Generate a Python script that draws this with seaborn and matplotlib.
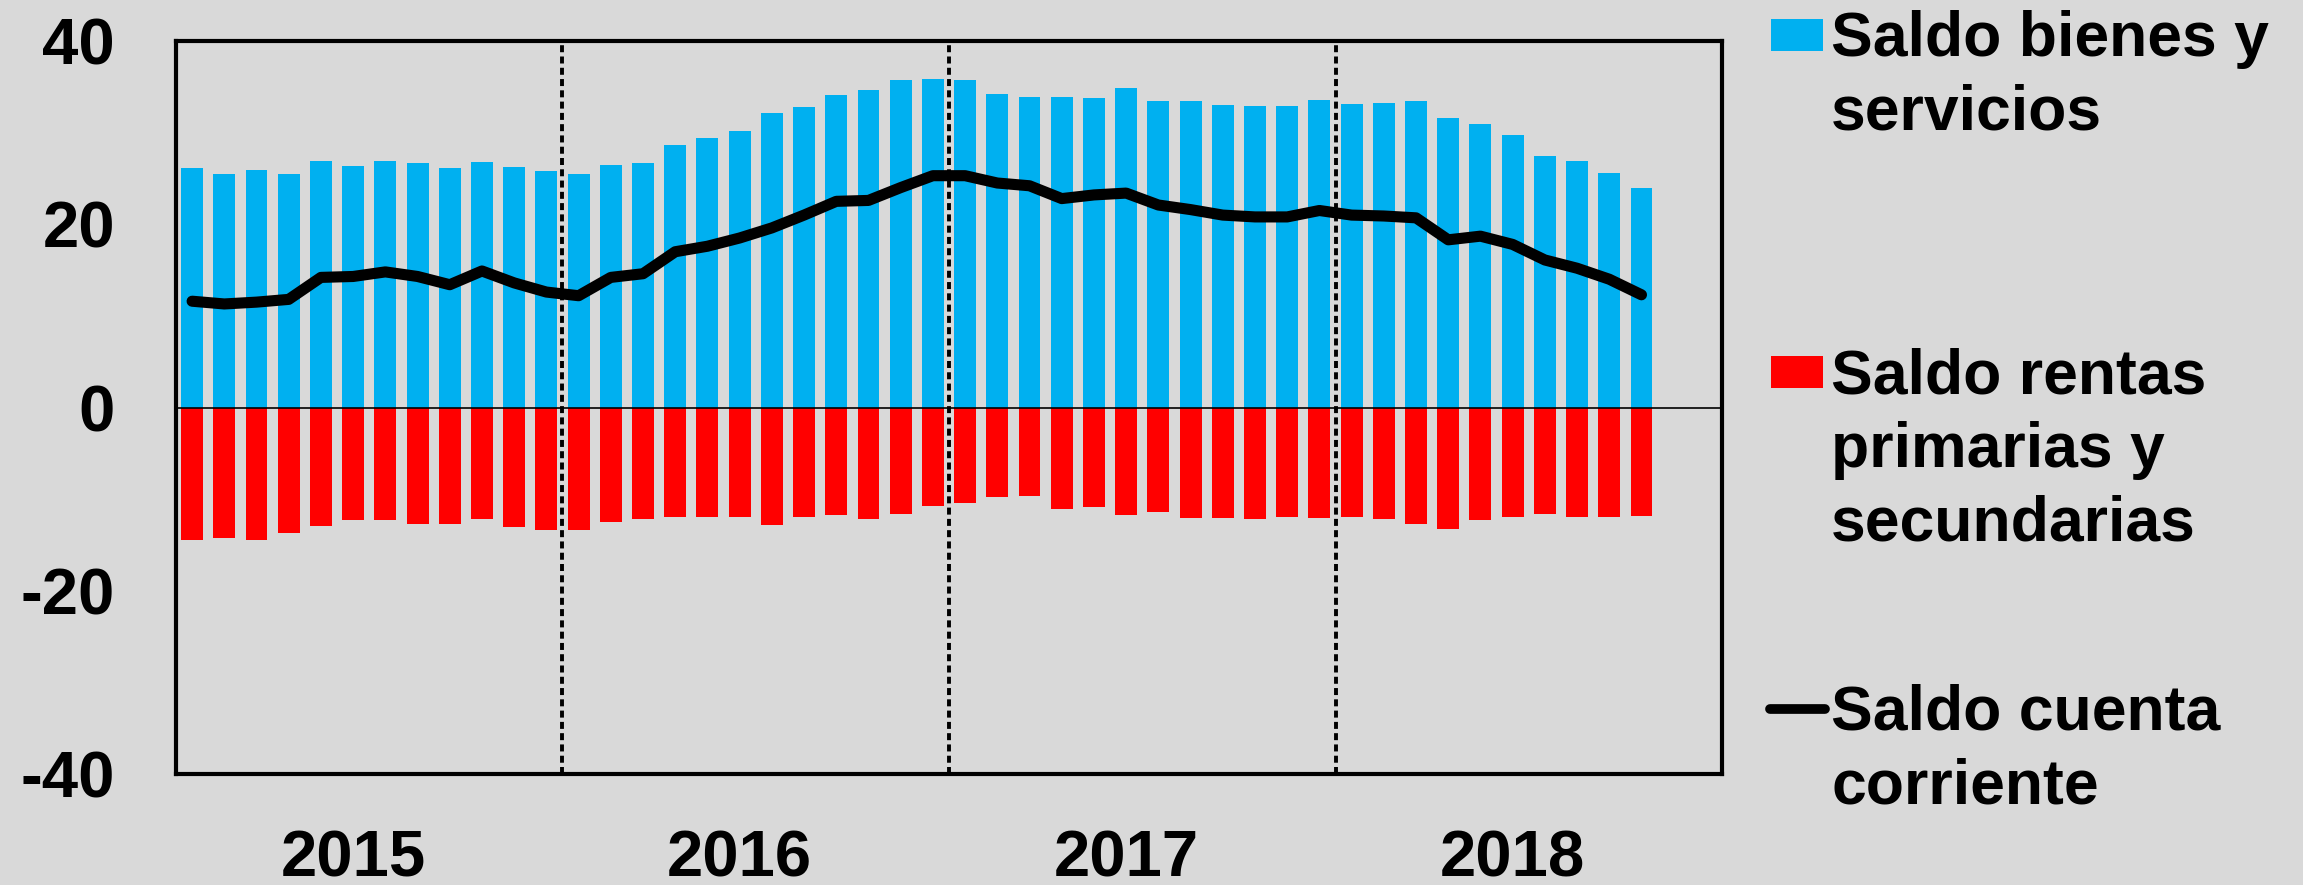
# Balanza de pagos: saldo de cuenta corriente y componentes (2015-2018)
import numpy as np
import pandas as pd
import matplotlib
matplotlib.use("Agg")
import matplotlib.pyplot as plt
import seaborn as sns
from matplotlib.patches import Rectangle
from matplotlib.lines import Line2D

# --- Data: monthly values, Jan 2015 - Oct 2018 ---
bienes_servicios = [26.1, 25.5, 25.9, 25.5, 26.9, 26.4, 26.9, 26.7, 26.1, 26.8, 26.3, 25.8,
                    25.5, 26.5, 26.7, 28.7, 29.4, 30.2, 32.1, 32.8, 34.1, 34.7, 35.7, 35.9,
                    35.7, 34.2, 33.9, 33.9, 33.8, 34.9, 33.4, 33.5, 33.0, 32.9, 32.9, 33.6,
                    33.1, 33.2, 33.4, 31.6, 30.9, 29.7, 27.5, 26.9, 25.6, 24.0]
rentas = [-14.5, -14.2, -14.5, -13.7, -12.9, -12.3, -12.3, -12.7, -12.7, -12.2, -13.0, -13.4,
          -13.4, -12.5, -12.2, -11.9, -12.0, -12.0, -12.8, -12.0, -11.7, -12.2, -11.6, -10.8,
          -10.4, -9.8, -9.7, -11.1, -10.9, -11.7, -11.4, -12.1, -12.1, -12.2, -12.0, -12.1,
          -12.0, -12.2, -12.7, -13.3, -12.3, -12.0, -11.6, -12.0, -11.9, -11.8]
cuenta_corriente = [11.6, 11.3, 11.5, 11.8, 14.2, 14.3, 14.8, 14.3, 13.4, 14.9, 13.6, 12.6,
                    12.2, 14.2, 14.6, 17.0, 17.6, 18.5, 19.6, 21.0, 22.5, 22.6, 24.0, 25.3,
                    25.3, 24.5, 24.2, 22.8, 23.2, 23.4, 22.1, 21.6, 21.0, 20.8, 20.8, 21.5,
                    21.0, 20.9, 20.7, 18.3, 18.7, 17.8, 16.1, 15.2, 14.0, 12.3]
years = ["2015", "2016", "2017", "2018"]
y_ticks = [-40, -20, 0, 20, 40]
legend_labels = ["Saldo bienes y\nservicios",
                 "Saldo rentas\nprimarias y\nsecundarias",
                 "Saldo cuenta\ncorriente"]

BLUE = "#00B0F0"
RED = "#FF0000"
BG = "#D9D9D9"
W, H = 2303, 885

df = pd.DataFrame({
    "mes": np.arange(len(bienes_servicios)),
    "bienes": bienes_servicios,
    "rentas": rentas,
    "cuenta": cuenta_corriente,
})

sns.set_theme(style="white")
plt.rcParams["font.family"] = ["Liberation Sans", "DejaVu Sans"]
plt.rcParams["font.weight"] = "bold"
plt.rcParams["text.color"] = "black"
plt.rcParams["xtick.color"] = "black"
plt.rcParams["ytick.color"] = "black"

fig = plt.figure(figsize=(W / 100, H / 100), dpi=100, facecolor=BG)
ax = fig.add_axes([176 / W, 1 - 774 / H, (1722 - 176) / W, (774 - 41) / H])
ax.set_facecolor(BG)

# bars
sns.barplot(data=df, x="mes", y="bienes", native_scale=True, color=BLUE, saturation=1,
            width=0.68, linewidth=0, errorbar=None, ax=ax, zorder=2)
sns.barplot(data=df, x="mes", y="rentas", native_scale=True, color=RED, saturation=1,
            width=0.68, linewidth=0, errorbar=None, ax=ax, zorder=2)

# year separators and zero line
for sep in [11.5, 23.5, 35.5]:
    ax.axvline(sep, color="black", lw=2.8, linestyle=(0, (1.8, 1.1)), zorder=3)
ax.axhline(0, color="black", lw=1.2, zorder=3)

# current account line
sns.lineplot(data=df, x="mes", y="cuenta", color="black", lw=8, ax=ax, zorder=4,
             solid_capstyle="round")

ax.set_xlim(-0.5, 47.5)
ax.set_ylim(-40, 40)
ax.set_xlabel("")
ax.set_ylabel("")
ax.set_yticks(y_ticks)
ax.set_yticklabels([str(v) for v in y_ticks], fontsize=47, fontweight="bold", color="black")
ax.set_xticks([5, 17, 29, 41])
ax.set_xticklabels(years, fontsize=47, fontweight="bold", color="black")
ax.tick_params(axis="y", length=0, pad=44)
ax.tick_params(axis="x", length=0, pad=40)
for s in ax.spines.values():
    s.set_visible(True)
    s.set_color("black")
    s.set_linewidth(3)

# legend drawn on the figure, to the right of the plot
text_x = 1831 / W
tops = [10, 347, 684]
handles = ["bar_blue", "bar_red", "line"]
for top, label, kind in zip(tops, legend_labels, handles):
    fig.text(text_x, 1 - top / H, label, ha="left", va="top", fontsize=45,
             fontweight="bold", linespacing=1.32, color="black")
    cy = top + 25
    if kind == "line":
        fig.add_artist(Line2D([1770 / W, 1825 / W], [1 - cy / H] * 2, transform=fig.transFigure,
                              color="black", lw=7, solid_capstyle="round"))
    else:
        fig.add_artist(Rectangle((1771 / W, 1 - (cy + 16) / H), 52 / W, 32 / H,
                                 transform=fig.transFigure,
                                 color=BLUE if kind == "bar_blue" else RED, lw=0))

fig.savefig("out.png", dpi=100, facecolor=BG)
